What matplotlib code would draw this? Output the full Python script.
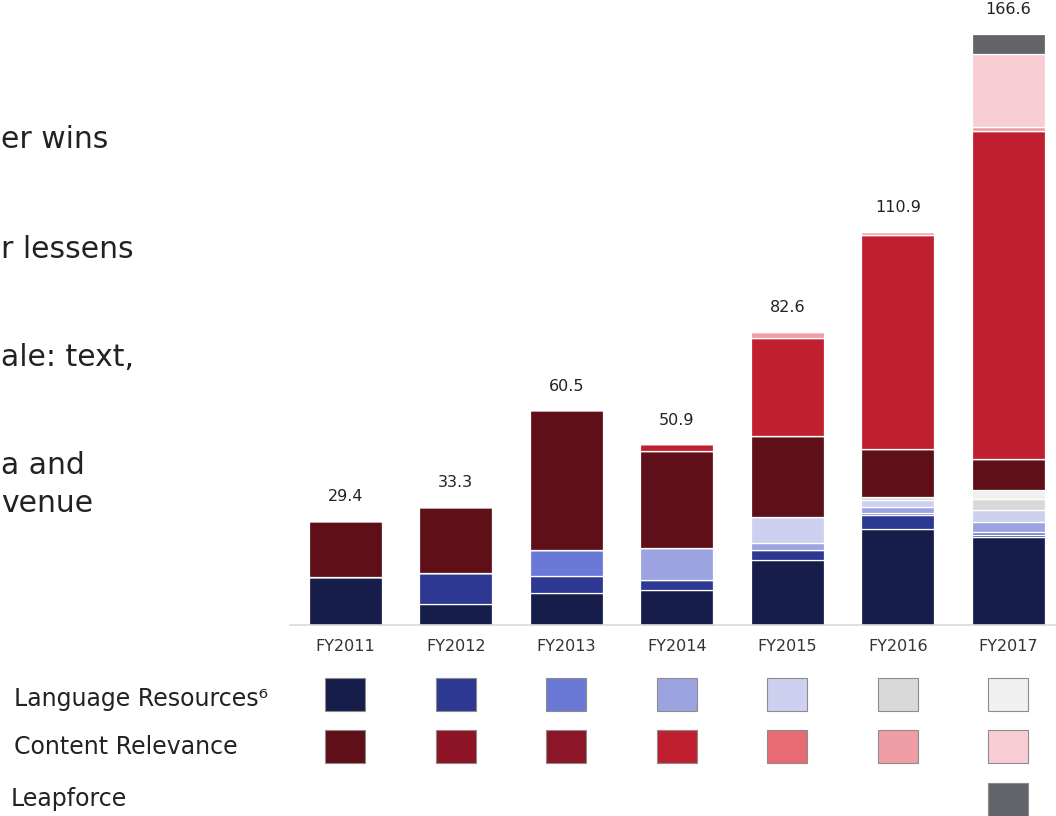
import matplotlib
matplotlib.use("Agg")
import matplotlib.pyplot as plt
from matplotlib.patches import Rectangle
import numpy as np

years = ["FY2011", "FY2012", "FY2013", "FY2014", "FY2015", "FY2016", "FY2017"]

# Language Resources segments, one list per colour shade (bottom up)
lr_navy = [13.6, 6.0, 8.9, 9.9, 18.3, 27.1, 24.7]
lr_blue = [0, 8.6, 4.9, 2.7, 2.9, 3.9, 0.8]
lr_mid = [0, 0, 7.4, 0, 0, 0.5, 0.7]
lr_peri = [0, 0, 0, 9.2, 1.8, 1.8, 2.9]
lr_lav = [0, 0, 0, 0, 7.5, 2.0, 3.2]
lr_gray = [0, 0, 0, 0, 0, 0.9, 3.3]
lr_light = [0, 0, 0, 0, 0, 0, 2.4]

# Content Relevance segments
cr_maroon = [15.8, 18.7, 39.3, 27.3, 22.9, 13.5, 8.8]
cr_dark1 = [0, 0, 0, 0, 0, 0, 0]
cr_dark2 = [0, 0, 0, 0, 0, 0, 0]
cr_crimson = [0, 0, 0, 1.8, 27.5, 60.2, 92.5]
cr_salmon = [0, 0, 0, 0, 0, 0, 0]
cr_pink = [0, 0, 0, 0, 1.7, 1.0, 1.0]
cr_light = [0, 0, 0, 0, 0, 0, 20.8]

leapforce = [0, 0, 0, 0, 0, 0, 5.5]

lr_colors = ["#161d4a", "#2c3891", "#6b79d6", "#9ba3e0", "#cdd1ef", "#d9d9d9", "#f0f0f0"]
cr_colors = ["#5f0f17", "#8c1424", "#8c1627", "#c01f2f", "#e86a75", "#ef9ea6", "#f7cdd3"]
lf_color = "#636469"

lr_series = [lr_navy, lr_blue, lr_mid, lr_peri, lr_lav, lr_gray, lr_light]
cr_series = [cr_maroon, cr_dark1, cr_dark2, cr_crimson, cr_salmon, cr_pink, cr_light]

W, H = 1056, 816
fig = plt.figure(figsize=(W / 100, H / 100), dpi=100)
fig.patch.set_facecolor("white")

ax = fig.add_axes([290 / W, 191 / H, 773.5 / W, 625 / H])
x = np.arange(len(years))
bottom = np.zeros(len(years))
stack = list(zip(lr_series, lr_colors)) + list(zip(cr_series, cr_colors)) + [(leapforce, lf_color)]
for values, color in stack:
    vals = np.array(values, dtype=float)
    ax.bar(x, vals, bottom=bottom, width=0.66, color=color,
           edgecolor="white", linewidth=0.9)
    bottom += vals

for xi, total in zip(x, bottom):
    ax.annotate(f"{total:.1f}", (xi, total), xytext=(0, 12), textcoords="offset points",
                ha="center", va="bottom", fontsize=11.5, color="#222222")

ax.set_xlim(-0.5, 6.5)
ax.set_ylim(0, 625 / 3.547)
ax.set_xticks(x)
ax.set_xticklabels(years, fontsize=11.5, color="#333333")
ax.tick_params(axis="x", length=0, pad=10)
ax.set_yticks([])
for side in ["top", "right", "left"]:
    ax.spines[side].set_visible(False)
ax.spines["bottom"].set_color("#d9d9d9")
ax.spines["bottom"].set_linewidth(1.2)

# legend grid below the bars
leg = fig.add_axes([290 / W, 0, 773.5 / W, 191 / H])
leg.set_xlim(-0.5, 6.5)
leg.set_ylim(816, 625)
leg.axis("off")
sq_w = 40 / 110.5
for i in range(len(years)):
    leg.add_patch(Rectangle((i - sq_w / 2, 678), sq_w, 33, facecolor=lr_colors[i],
                            edgecolor="#8c8c8c", linewidth=0.8))
    leg.add_patch(Rectangle((i - sq_w / 2, 730), sq_w, 33, facecolor=cr_colors[i],
                            edgecolor="#8c8c8c", linewidth=0.8))
leg.add_patch(Rectangle((6 - sq_w / 2, 783), sq_w, 34, facecolor=lf_color,
                        edgecolor="#8c8c8c", linewidth=0.8, clip_on=False))

fig.text(14 / W, 1 - 699 / H, "Language Resources\u2076", fontsize=17, va="center", color="#222222")
fig.text(14 / W, 1 - 747 / H, "Content Relevance", fontsize=17, va="center", color="#222222")
fig.text(11 / W, 1 - 799 / H, "Leapforce", fontsize=17, va="center", color="#222222")

# body text at the left edge
body = [("er wins", 140), ("r lessens", 249), ("ale: text,", 357),
        ("a and", 466), ("venue", 503)]
for txt, py in body:
    fig.text(1 / W, 1 - py / H, txt, fontsize=21.5, va="center", color="#222222")

fig.savefig("out.png", dpi=100, facecolor="white")
